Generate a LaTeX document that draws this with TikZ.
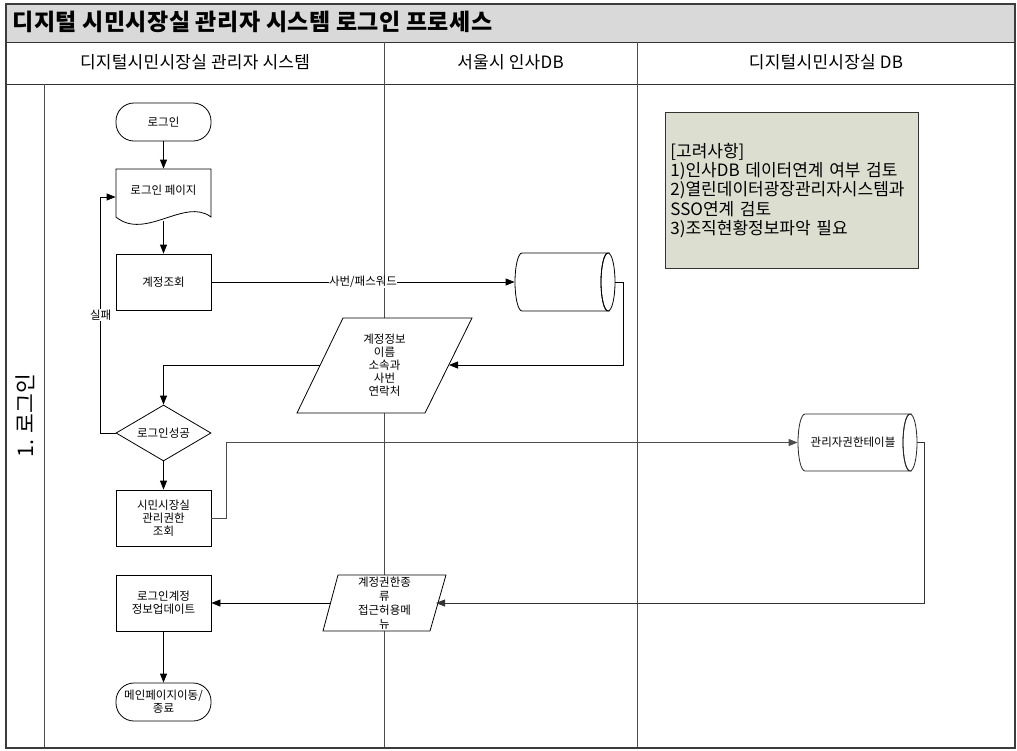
\documentclass[tikz,border=0pt]{standalone}
\usepackage{fontspec}
\setmainfont{Noto Sans CJK KR}
\usetikzlibrary{arrows.meta,shapes.geometric}
\definecolor{titlegray}{RGB}{217,217,217}
\definecolor{notecol}{RGB}{220,223,208}
\definecolor{framecol}{RGB}{60,60,60}
\begin{document}
\begin{tikzpicture}[x=1pt,y=-1pt,
  line width=0.8pt,
  every node/.style={font=\fontsize{11.5}{13}\selectfont, inner sep=1pt, align=center},
  proc/.style={draw, fill=white, minimum width=95pt, minimum height=56pt},
  term/.style={draw, fill=white, rounded corners=18pt, minimum width=95pt, minimum height=38pt},
  dec/.style={draw, fill=white, diamond, aspect=1.7, minimum width=95pt, minimum height=56pt, inner sep=0pt},
  anch/.style={draw=none, inner sep=0pt},
  arr/.style={-{Triangle[length=9pt,width=7pt]}},
  lbl/.style={fill=white, inner sep=0.5pt},
  shapeline/.style={draw, fill=white}
]
\useasboundingbox (0,0) rectangle (1017,750);
% frame
\fill[white] (0,0) rectangle (1017,750);
\fill[titlegray] (6,4) rectangle (1015,42);
\draw[black!80] (6,42) -- (1015,42);
\draw[black!80] (6,84) -- (1015,84);
\draw[black!70] (384,42) -- (384,748);
\draw[black!70] (637,42) -- (637,748);
\draw[black!70] (44,84) -- (44,748);
\node[anchor=west, font=\fontsize{23}{26}\selectfont\bfseries\addfontfeature{LetterSpace=2}] (title) at (11,22) {디지털 시민시장실 관리자 시스템 로그인 프로세스};
\node[font=\fontsize{17}{19}\selectfont\addfontfeature{LetterSpace=1.5}] (h1) at (195,62) {디지털시민시장실 관리자 시스템};
\node[font=\fontsize{17}{19}\selectfont\addfontfeature{LetterSpace=1.5}] (h2) at (510.5,62) {서울시 인사DB};
\node[font=\fontsize{17}{19}\selectfont\addfontfeature{LetterSpace=1.5}] (h3) at (826,62) {디지털시민시장실 DB};
\node[rotate=90, font=\fontsize{21.5}{23}\selectfont] (lane) at (25,416) {1. 로그인};

% note
\node[draw=black!80, fill=notecol, anchor=north west, minimum width=253pt, minimum height=156pt,
      text width=243pt, align=left, inner xsep=5pt, font=\fontsize{17}{19.2}\selectfont] (note) at (665,112)
  {[고려사항]\\1)인사DB 데이터연계 여부 검토\\2)열린데이터광장관리자시스템과\\SSO연계 검토\\3)조직현황정보파악 필요};

% shapes
\node[term] (start) at (163.5,122) {로그인};
\draw[shapeline] (116,169) -- (211,169) -- (211,217) .. controls (185,197) and (145,241) .. (116,217) -- cycle;
\node[anch, minimum width=95pt, minimum height=56pt] (lp) at (163.5,197) {};
\node (lpt) at (163.5,190) {로그인 페이지};
\coordinate (lpb) at (163.5,221);
\node[proc] (acc) at (163.5,282) {계정조회};
\node[dec] (ok) at (163.5,433) {로그인성공};
\node[proc] (auth) at (163.5,518) {시민시장실\\관리권한\\조회};
\node[proc] (upd) at (163.5,603) {로그인계정\\정보업데이트};
\node[term] (end) at (163.5,702) {메인페이지이동/\\종료};

% parallelogram 1
\draw[shapeline] (343,318) -- (472,318) -- (425,413) -- (297,413) -- cycle;
\node (p1) at (384.5,365) {계정정보\\이름\\소속과\\사번\\연락처};
\coordinate (p1e) at (449,365);
\coordinate (p1w) at (320,365);
% parallelogram 2
\draw[shapeline] (338,575) -- (446,575) -- (430,631) -- (323,631) -- cycle;
\node[font=\fontsize{11.5}{13.8}\selectfont] (p2) at (384.5,603) {계정권한종\\류\\접근허용메\\뉴};
\coordinate (p2e) at (436,603);
\coordinate (p2w) at (331,603);

% cylinder 1
\draw[shapeline] (522,253) -- (608,253) arc[start angle=270, end angle=90, x radius=7, y radius=29] -- (522,311) arc[start angle=90, end angle=270, x radius=7, y radius=29] -- cycle;
\draw (608,253) arc[start angle=270, end angle=-90, x radius=7, y radius=29];
\node[anch, minimum width=100pt, minimum height=58pt] (c1) at (565,282) {};
% cylinder 2
\draw[draw=black!85, fill=white] (805,414) -- (910,414) arc[start angle=270, end angle=90, x radius=7, y radius=28.5] -- (805,471) arc[start angle=90, end angle=270, x radius=7, y radius=28.5] -- cycle;
\draw[draw=black!85] (910,414) arc[start angle=270, end angle=-90, x radius=7, y radius=28.5];
\node[anch, minimum width=119pt, minimum height=57pt] (c2) at (857.5,442.5) {};
\node (c2t) at (853,442) {관리자권한테이블};

% connectors
\draw[arr] (start.south) -- (lp.north);
\draw[arr] (lpb) -- (acc.north);
\draw[arr] (acc.east) -- node[lbl]{사번/패스워드} (c1.west);
\draw[arr] (c1.east) -- ++(8,0) |- (p1e);
\draw[arr] (p1w) -| (ok.north);
\draw[arr] (ok.south) -- (auth.north);
\draw[arr] (ok.west) -- ++(-15,0) coordinate (f1) -- node[lbl, pos=0.5]{실패} (f1 |- lp.west) -- (lp.west);
\draw[arr, draw=black!70] (auth.east) -- ++(15,0) |- (c2.west);
\draw[arr, draw=black!80] (c2.east) -- ++(7,0) |- (p2e);
\draw[arr] (p2w) -- (upd.east);
\draw[arr] (upd.south) -- (end.north);

% outer frame
\draw[framecol, line width=1.4pt] (6,4) rectangle (1015,748);
\end{tikzpicture}
\end{document}
